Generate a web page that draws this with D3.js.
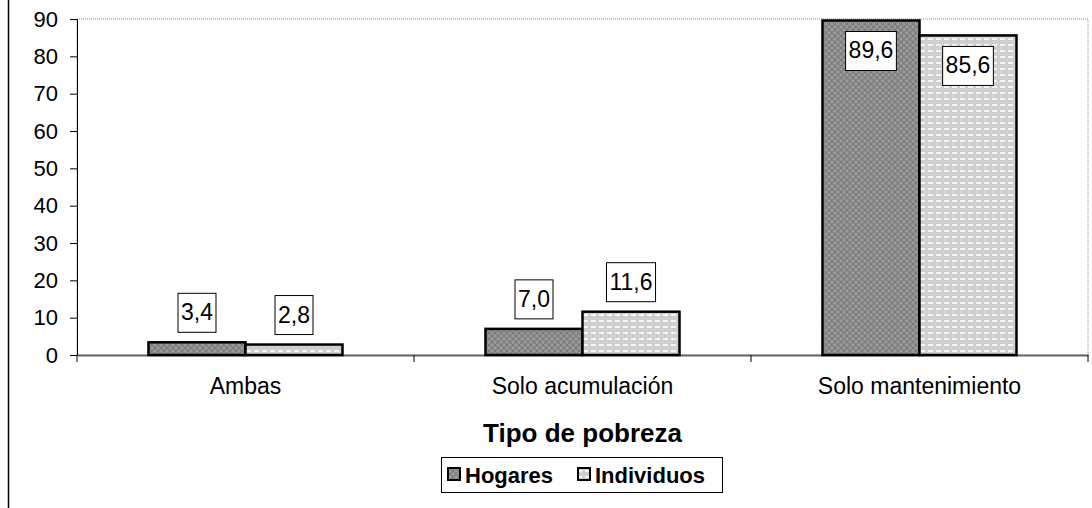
<!DOCTYPE html>
<html lang="es">
<head>
<meta charset="UTF-8">
<title>Tipo de pobreza</title>
<script src="https://d3js.org/d3.v7.min.js"></script>
<style>
  body { margin: 0; background: #fff; }
  svg { display: block; font-family: "Liberation Sans", Arial, sans-serif; }
</style>
</head>
<body>
<svg id="chart" width="1092" height="508"></svg>
<script>
const categories = ["Ambas", "Solo acumulación", "Solo mantenimiento"];
const seriesNames = ["Hogares", "Individuos"];
const hogares = [3.4, 7.0, 89.6];
const individuos = [2.8, 11.6, 85.6];
const yTicks = [0, 10, 20, 30, 40, 50, 60, 70, 80, 90];

const svg = d3.select("#chart");
const margin = { left: 77, right: 1088, top: 19, bottom: 355 };
const FONT = "'Liberation Sans', Arial, sans-serif";

// patterns
const defs = svg.append("defs");
const p1 = defs.append("pattern").attr("id", "pat0")
  .attr("width", 6).attr("height", 6).attr("patternUnits", "userSpaceOnUse");
p1.append("rect").attr("width", 6).attr("height", 6).attr("fill", "#9a9a9a");
p1.append("path").attr("d", "M0,0L6,6M6,0L0,6").attr("stroke", "#7a7a7a").attr("stroke-width", 1.2);
const p2 = defs.append("pattern").attr("id", "pat1")
  .attr("width", 8).attr("height", 6).attr("patternUnits", "userSpaceOnUse");
p2.append("rect").attr("width", 8).attr("height", 6).attr("fill", "#cfcfcf");
p2.append("rect").attr("x", 1).attr("y", 2).attr("width", 5).attr("height", 2).attr("fill", "#f4f4f4");

// outer left border
svg.append("line").attr("x1", 8.5).attr("x2", 8.5).attr("y1", 0).attr("y2", 508)
  .attr("stroke", "#000").attr("stroke-width", 1.5);

const x0 = d3.scaleBand().domain(categories).range([margin.left, margin.right]);
const x1 = d3.scaleBand().domain(seriesNames).range([0, x0.bandwidth()]).paddingInner(0).paddingOuter(0.737);
const y = d3.scaleLinear().domain([0, 90]).range([margin.bottom, margin.top]);

// plot border (dotted)
svg.append("rect").attr("x", margin.left).attr("y", margin.top)
  .attr("width", margin.right - margin.left).attr("height", margin.bottom - margin.top)
  .attr("fill", "none").attr("stroke", "#888").attr("stroke-dasharray", "1,1");

// y axis
const yAxis = svg.append("g").attr("transform", `translate(${margin.left},0)`)
  .call(d3.axisLeft(y).tickValues(yTicks).tickSize(7).tickPadding(12).tickFormat(d3.format("d")));
yAxis.select(".domain").attr("stroke", "#000");
yAxis.selectAll("text").attr("font-size", 22).attr("fill", "#000").attr("font-family", FONT);

// x axis
const xAxis = svg.append("g").attr("transform", `translate(0,${margin.bottom})`)
  .call(d3.axisBottom(x0).tickSize(0).tickPadding(23));
xAxis.select(".domain").attr("stroke", "#666").attr("stroke-width", 2);
xAxis.selectAll("text").attr("font-size", 23).attr("fill", "#000").attr("font-family", FONT);
// category dividing ticks
const bounds = categories.map(c => x0(c)).concat([margin.right]);
svg.append("g").selectAll("line").data(bounds).join("line")
  .attr("x1", d => d).attr("x2", d => d)
  .attr("y1", margin.bottom).attr("y2", margin.bottom + 7)
  .attr("stroke", "#000");

// bars
const rows = categories.map((c, i) => ({ cat: c, vals: [hogares[i], individuos[i]] }));
const groups = svg.append("g").selectAll("g").data(rows).join("g")
  .attr("transform", d => `translate(${x0(d.cat)},0)`);

groups.selectAll("rect").data(d => d.vals.map((v, j) => ({ v, j, s: seriesNames[j] })))
  .join("rect")
  .attr("x", d => x1(d.s))
  .attr("y", d => y(d.v))
  .attr("width", x1.bandwidth())
  .attr("height", d => y(0) - y(d.v))
  .attr("fill", d => `url(#pat${d.j})`)
  .attr("stroke", "#000").attr("stroke-width", 2.5);

// value labels
const fmt = v => d3.format(".1f")(v).replace(".", ",");
const labels = groups.selectAll("g.lbl").data(d => d.vals.map((v, j) => ({ v, j, s: seriesNames[j] })))
  .join("g").attr("class", "lbl");
labels.each(function (d) {
  const g = d3.select(this);
  const cx = x1(d.s) + x1.bandwidth() / 2;
  const t = g.append("text").attr("x", cx).attr("text-anchor", "middle")
    .attr("font-size", 23).attr("fill", "#000").text(fmt(d.v));
  const bw = t.node().getComputedTextLength() + 6;
  const bh = 39;
  const top = d.v > 80 ? y(d.v) + 11 : y(d.v) - 10 - bh;
  g.insert("rect", "text").attr("x", cx - bw / 2).attr("y", top)
    .attr("width", bw).attr("height", bh)
    .attr("fill", "#fff").attr("stroke", "#000").attr("stroke-width", 1);
  t.attr("y", top + 27);
});

// axis title
svg.append("text").attr("x", (margin.left + margin.right) / 2).attr("y", 442)
  .attr("text-anchor", "middle").attr("font-size", 26).attr("font-weight", "bold")
  .text("Tipo de pobreza");

// legend
const lg = svg.append("g");
lg.append("rect").attr("x", 441.5).attr("y", 457.5).attr("width", 281).attr("height", 35)
  .attr("fill", "#fff").attr("stroke", "#000").attr("stroke-width", 1);
const legendX = [448, 578];
seriesNames.forEach((s, j) => {
  lg.append("rect").attr("x", legendX[j]).attr("y", 468).attr("width", 12).attr("height", 12)
    .attr("fill", `url(#pat${j})`).attr("stroke", "#000").attr("stroke-width", 2);
  lg.append("text").attr("x", legendX[j] + 17).attr("y", 483)
    .attr("font-size", 22).attr("font-weight", "bold").text(s);
});
</script>
</body>
</html>
